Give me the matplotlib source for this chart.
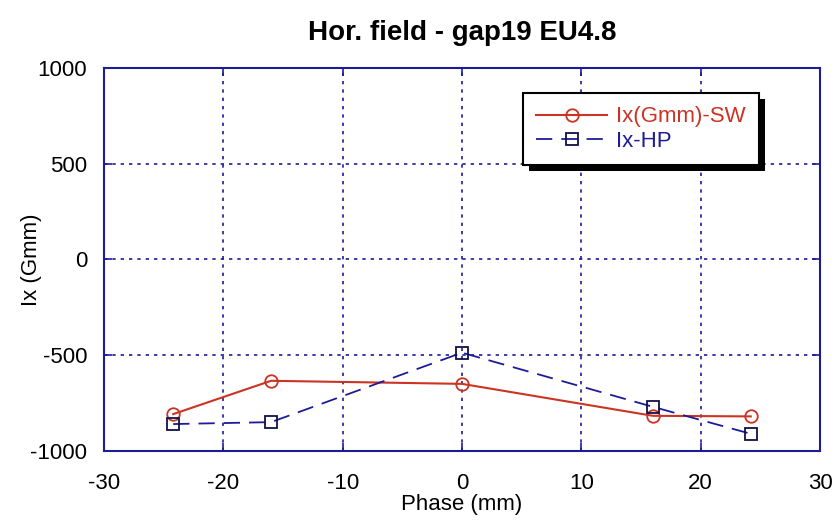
import numpy as np
import matplotlib
matplotlib.use("Agg")
import matplotlib.pyplot as plt
from matplotlib.patches import Rectangle
from matplotlib.transforms import IdentityTransform

# data
phase = [-24.2, -16, 0, 16, 24.2]
ix_sw = [-808, -634, -650, -817, -820]
ix_hp = [-860, -850, -487, -770, -911]

x_ticks = [-30, -20, -10, 0, 10, 20, 30]
y_ticks = [-1000, -500, 0, 500, 1000]

red = '#cc3322'
navy = '#1c1c96'

plt.rcParams['font.family'] = ['Liberation Sans', 'DejaVu Sans']
plt.rcParams['axes.unicode_minus'] = False

fig = plt.figure(figsize=(8.34, 5.2), dpi=100)
ax = fig.add_axes([0.1247, 0.133, 0.8585, 0.736])

ax.plot(phase, ix_sw, color=red, lw=1.5, marker='o', ms=9,
        mfc='none', mec=red, mew=1.3, label='Ix(Gmm)-SW')
ax.plot(phase, ix_hp, color=navy, lw=1.3, ls=(0, (9, 5)), marker='s', ms=9,
        mfc='none', mec='#10104a', mew=1.3, label='Ix-HP')

ax.set_xlim(-30, 30)
ax.set_ylim(-1000, 1000)
ax.set_xticks(x_ticks)
ax.set_yticks(y_ticks)
ax.tick_params(direction='in', length=6, width=1.2, color=navy,
               top=True, right=True, labelsize=16)
ax.tick_params(axis='x', pad=16)
ax.tick_params(axis='y', pad=12)
ax.grid(True, color=navy, ls=(0, (2, 3)), lw=1.2)
for s in ax.spines.values():
    s.set_color(navy)
    s.set_linewidth(1.5)

ax.set_title('Hor. field - gap19 EU4.8', fontsize=20, fontweight='bold', pad=20)
ax.set_xlabel('Phase (mm)', fontsize=16, labelpad=0)
ax.set_ylabel('Ix (Gmm)', fontsize=16)
ax.yaxis.set_label_coords(-0.087, 0.5)

leg = ax.legend(loc='upper left', bbox_to_anchor=(0.585, 0.935), fontsize=16,
                fancybox=False, edgecolor='black', framealpha=1,
                labelcolor='linecolor', borderaxespad=0,
                handlelength=3.2, borderpad=0.6, labelspacing=0.15,
                handletextpad=0.4)
leg.get_frame().set_linewidth(1.5)

# drop shadow under the legend box
fig.canvas.draw()
bb = leg.get_window_extent()
ax.add_patch(Rectangle((bb.x0 + 6, bb.y0 - 6), bb.width, bb.height,
                       transform=IdentityTransform(), facecolor='black',
                       edgecolor='none', zorder=4.9, clip_on=False))

fig.savefig('out.png', dpi=100, facecolor='white')
